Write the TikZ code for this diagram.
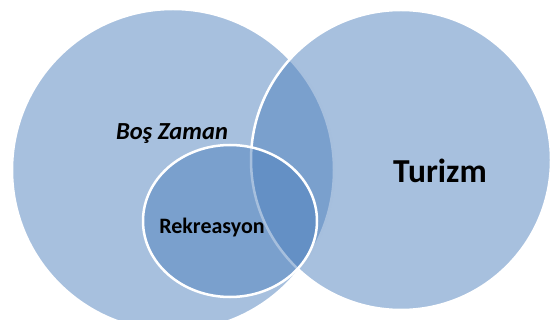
\documentclass[tikz,border=0pt]{standalone}
\usepackage{fontspec}
\setmainfont{Carlito}
\usetikzlibrary{positioning,shapes.geometric}
\definecolor{vennblue}{RGB}{79,129,189}

\begin{document}
\begin{tikzpicture}[
    x=1pt, y=1pt,
    venn/.style={
        circle, draw=white, line width=2.5pt, fill=vennblue,
        fill opacity=0.5, inner sep=0pt
    },
    vennoval/.style={
        ellipse, draw=white, line width=2.5pt, fill=vennblue,
        fill opacity=0.5, inner sep=0pt
    },
    tag/.style={anchor=base, text=black, font=\bfseries}
]
\useasboundingbox (0,0) rectangle (554,-320);

% Circles
\node[venn, minimum size=322pt] (leisure) at (173,-170) {};
\node[venn, minimum size=300pt] (tourism) at (401,-160) {};
\node[vennoval, minimum width=174pt, minimum height=152pt] (recreation) at (230,-221) {};

% Labels
\node[tag, font=\bfseries\itshape\fontsize{24.5}{29}\selectfont] (leisuretext) at (172,-140) {Boş Zaman};
\node[tag, font=\bfseries\fontsize{33.5}{38}\selectfont] (tourismtext) at (440,-183) {Turizm};
\node[tag, font=\bfseries\fontsize{22}{26}\selectfont] (recreationtext) at (212,-234) {Rekreasyon};

\end{tikzpicture}
\end{document}
